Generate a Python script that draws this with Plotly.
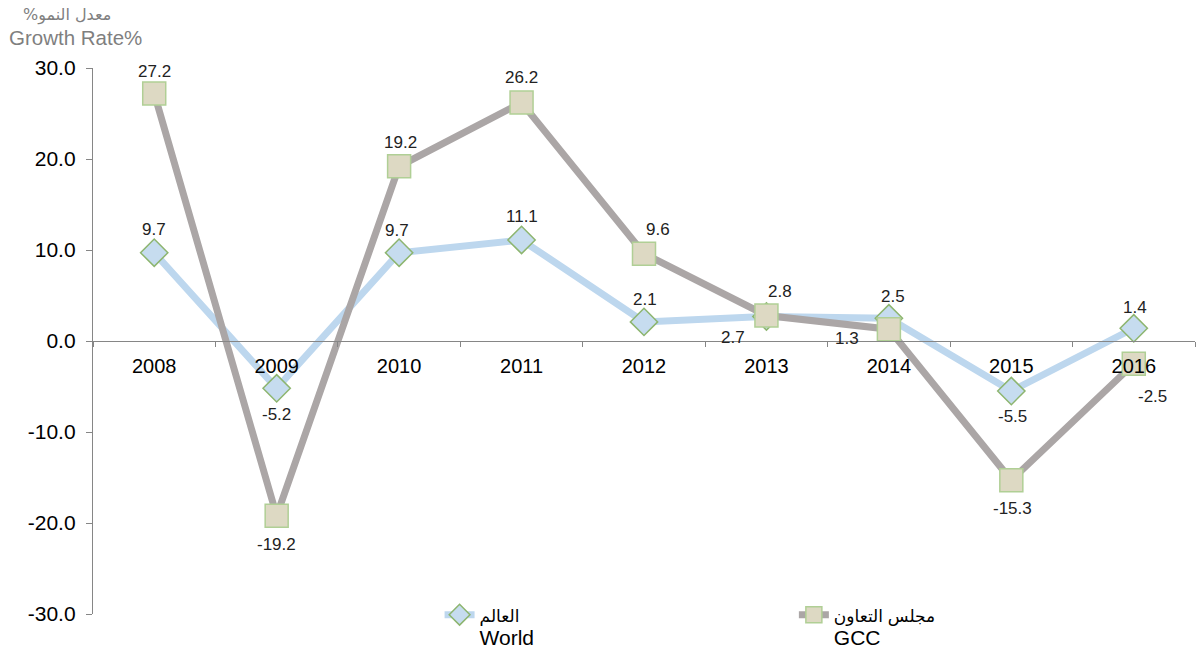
import plotly.graph_objects as go

years = ["2008", "2009", "2010", "2011", "2012", "2013", "2014", "2015", "2016"]
world = [9.7, -5.2, 9.7, 11.1, 2.1, 2.7, 2.5, -5.5, 1.4]
gcc = [27.2, -19.2, 19.2, 26.2, 9.6, 2.8, 1.3, -15.3, -2.5]
world_ar, world_en = "العالم", "World"
gcc_ar, gcc_en = "مجلس التعاون", "GCC"
y_ticks = [-30, -20, -10, 0, 10, 20, 30]

# label offsets in pixels (style only)
world_off = [(0, 23), (0, -26), (-2, 22), (0, 23), (1, 22), (-33, -21), (4, 22), (1, -25), (1, 21)]
gcc_off = [(0, 22), (0, -29), (1, 24), (0, 25), (14, 24), (14, 24), (-42, -9), (1, -28), (19, -33)]

FONT = "Liberation Sans, Arial, DejaVu Sans, sans-serif"


def legend_name(ar, en):
    return (f"<span style='font-size:17px'>{ar}</span><br>"
            f"<span style='font-size:21px'>{en}</span>")


fig = go.Figure()
fig.add_trace(go.Scatter(
    x=years, y=world, name=legend_name(world_ar, world_en), mode="lines+markers",
    line=dict(color="#bdd7ee", width=7),
    marker=dict(symbol="diamond", size=21, color="#c6dcef",
                line=dict(color="#8db56f", width=1.5)),
    legend="legend", showlegend=True,
))
fig.add_trace(go.Scatter(
    x=years, y=gcc, name=legend_name(gcc_ar, gcc_en), mode="lines+markers",
    line=dict(color="#aba6a6", width=7),
    marker=dict(symbol="square", size=23, color="#ddd9c3",
                line=dict(color="#b0cf95", width=1.5)),
    legend="legend2", showlegend=True,
))

annotations = []
for series, offs in ((world, world_off), (gcc, gcc_off)):
    for i, (v, (dx, dy)) in enumerate(zip(series, offs)):
        annotations.append(dict(
            x=i, y=v, xref="x", yref="y", text=f"{v:.1f}", showarrow=False,
            xshift=dx, yshift=dy, font=dict(family=FONT, size=17, color="#222222"),
        ))

annotations.append(dict(
    x=-0.0233, y=1.097, xref="paper", yref="paper", text="%معدل النمو",
    showarrow=False, xanchor="center", yanchor="middle",
    font=dict(family="DejaVu Sans, sans-serif", size=16, color="#7f7f7f"),
))
annotations.append(dict(
    x=-0.0780, y=1.055, xref="paper", yref="paper", text="Growth Rate%",
    showarrow=False, xanchor="left", yanchor="middle",
    font=dict(family=FONT, size=20.5, color="#7f7f7f"),
))

fig.update_layout(
    width=1200, height=656,
    margin=dict(l=93, r=5, t=68, b=42, autoexpand=False),
    paper_bgcolor="white", plot_bgcolor="white",
    font=dict(family=FONT, color="#000000"),
    annotations=annotations,
    showlegend=True,
    legend=dict(x=0.3145, y=0.032, xanchor="left", yanchor="top",
                orientation="h", valign="top", bgcolor="rgba(0,0,0,0)",
                font=dict(family=FONT, size=18, color="#000000")),
    legend2=dict(x=0.636, y=0.032, xanchor="left", yanchor="top",
                 orientation="h", valign="top", bgcolor="rgba(0,0,0,0)",
                 font=dict(family=FONT, size=18, color="#000000")),
)
fig.update_xaxes(
    type="category", range=[-0.5, 8.5], anchor="free", position=0.5,
    showline=True, linecolor="#868686", linewidth=1.3,
    ticks="outside", tickson="boundaries", ticklen=5, tickcolor="#868686",
    showgrid=False, zeroline=False, automargin=False, ticklabelstandoff=7,
    tickfont=dict(family=FONT, size=20, color="#000000"),
)
fig.update_yaxes(
    range=[-30, 30], tickvals=y_ticks, ticktext=[f"{t:.1f}" for t in y_ticks],
    showline=True, linecolor="#868686", linewidth=1.3,
    ticks="outside", ticklen=6, tickcolor="#868686",
    showgrid=False, zeroline=False, automargin=False, ticklabelstandoff=6,
    tickfont=dict(family=FONT, size=21, color="#000000"),
)

fig.write_html("out.html", config={"displayModeBar": False},
               post_script="document.body.style.margin='0';")
